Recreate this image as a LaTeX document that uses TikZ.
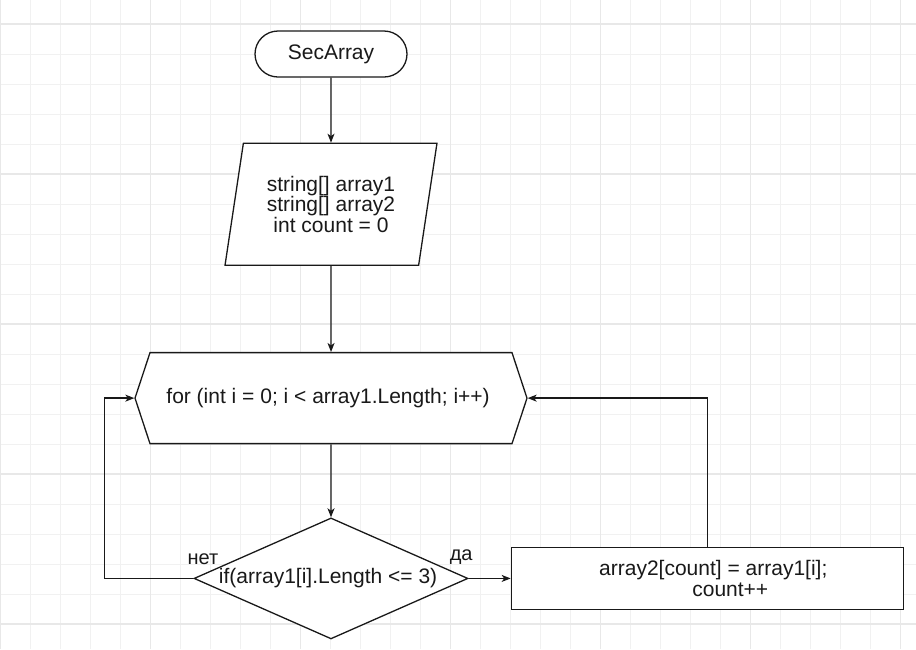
\documentclass[tikz,border=0pt]{standalone}
\usepackage{fontspec}
\setmainfont{Liberation Sans}
\usetikzlibrary{
  arrows.meta,
  positioning,
  shapes.geometric,
  shapes.symbols
}
\definecolor{gridminor}{RGB}{241,241,241}
\definecolor{gridmajor}{RGB}{232,232,232}
\definecolor{inkgray}{RGB}{25,25,25}
\tikzset{
  >={Stealth[length=9pt,width=7pt,inset=2.5pt]},
  every node/.style={
    font=\fontsize{21}{20.5}\selectfont,
    text=inkgray
  },
  block/.style={
    draw=inkgray,
    line width=1.3pt,
    fill=white,
    align=center,
    inner sep=0pt
  },
  terminal/.style={
    block,
    rectangle,
    rounded corners=23pt,
    minimum width=152pt,
    minimum height=46pt
  },
  iobox/.style={
    block,
    trapezium,
    trapezium left angle=76.6,
    trapezium right angle=103.4,
    trapezium stretches=true,
    minimum width=212pt,
    minimum height=122pt
  },
  loopbox/.style={
    block,
    signal,
    signal to=west and east,
    signal pointer angle=143.5,
    minimum width=392pt,
    minimum height=91pt
  },
  decision/.style={
    block,
    diamond,
    aspect=2.264,
    minimum width=274pt,
    minimum height=121pt
  },
  process/.style={
    block,
    rectangle,
    minimum width=392pt,
    minimum height=62pt
  },
  flow/.style={
    ->,
    line width=1.3pt,
    draw=inkgray
  },
  answer/.style={
    font=\fontsize{20}{20}\selectfont,
    inner sep=0pt
  },
  gridline/.style={
    draw=gridminor,
    line width=1pt
  },
  gridbold/.style={
    draw=gridmajor,
    line width=1.2pt
  }
}

\begin{document}
\begin{tikzpicture}[x=1pt, y=-1pt]

% Page and background grid.
\useasboundingbox[fill=white] (0,0) rectangle (916,649);
\foreach \gx in {0,...,30}
  \draw[gridline] (0.7+30*\gx,0) -- (0.7+30*\gx,649);
\foreach \gy in {0,...,20}
  \draw[gridline] (0,24+30*\gy) -- (916,24+30*\gy);
\foreach \gx in {0,...,6}
  \draw[gridbold] (0.7+150*\gx,0) -- (0.7+150*\gx,649);
\foreach \gy in {0,...,4}
  \draw[gridbold] (0,24+150*\gy) -- (916,24+150*\gy);

% Main column.
\node[terminal] (start) at (331,54) {SecArray};
\node[iobox, below=65pt of start] (vars) {
  string[] array1\\
  string[] array2\\
  int count = 0
};
\node[loopbox, below=86pt of vars] (loop) {
  for (int i = 0; i < array1.Length; i++)
};
\node[decision, below=73pt of loop] (check) {
  if(array1[i].Length <= 3)
};

% Branch body.
\node[process, right=42pt of check] (body) {
  \hspace*{12pt}array2[count] = array1[i];\\
  \hspace*{46pt}count++
};

% Branch labels.
\node[answer, above=14pt of check.west, xshift=9.5pt] (no) {нет};
\node[answer, above=14pt of check.east, xshift=-7.5pt] (yes) {да};

% Connectors.
\draw[flow] (start) -- (vars);
\draw[flow] (vars) -- (loop);
\draw[flow] (loop) -- (check);
\draw[flow] (check.east) -- (body.west);
\draw[flow] (check.west) -- ++(-89,0) |- (loop.west);
\draw[flow] (body.north) |- (loop.east);

\end{tikzpicture}
\end{document}
